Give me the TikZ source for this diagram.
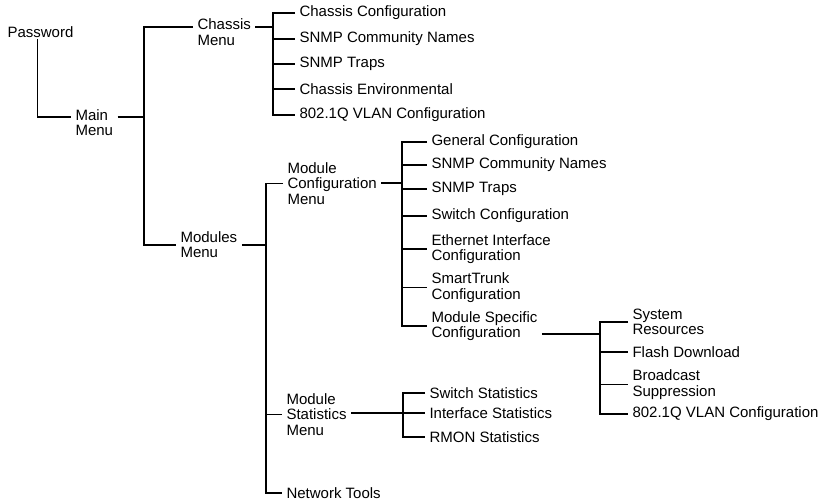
\documentclass[tikz,border=0pt]{standalone}
\usepackage{fontspec}
\setmainfont{Liberation Sans}
\usepackage{tikz}
\usetikzlibrary{calc}
\tikzset{
    menu/.style={anchor=west, align=left, inner xsep=4pt, inner ysep=1pt,
    font=\fontsize{15}{15.5}\selectfont}
}

\begin{document}
\begin{tikzpicture}[x=1pt,y=-1pt,line width=1.1pt]
\useasboundingbox (0,0) rectangle (831,502);
\coordinate (T1) at (144,117);
\coordinate (T2) at (273,27);
\coordinate (T3) at (266,245);
\coordinate (T4) at (402,183);
\coordinate (T5) at (600,334);
\coordinate (T6) at (403,413);

\node[menu] (pw) at (3,32) {Password};
\node[menu] (main) at (71,122.5) {Main\\Menu};
\node[menu] (chassis) at (193,32) {Chassis\\Menu};
\node[menu] (cc1) at (295,13) {Chassis Configuration};
\node[menu] (cc2) at (295,39) {SNMP Community Names};
\node[menu] (cc3) at (295,64) {SNMP Traps};
\node[menu] (cc4) at (295,89) {Chassis Environmental};
\node[menu] (cc5) at (295,115) {802.1Q VLAN Configuration};
\node[menu] (modules) at (176,244.5) {Modules\\Menu};
\node[menu] (modcfg) at (283,183.5) {Module\\Configuration\\Menu};
\node[menu] (g1) at (427,142) {General Configuration};
\node[menu] (g2) at (427,165) {SNMP Community Names};
\node[menu] (g3) at (427,189) {SNMP Traps};
\node[menu] (g4) at (427,216) {Switch Configuration};
\node[menu] (g5) at (427,249) {Ethernet Interface\\Configuration};
\node[menu] (g6) at (427,287.5) {SmartTrunk\\Configuration};
\node[menu] (g7) at (427,326) {Module Specific\\Configuration};
\node[menu] (s1) at (628,322) {System\\Resources};
\node[menu] (s2) at (628,352) {Flash Download};
\node[menu] (s3) at (628,384.5) {Broadcast\\Suppression};
\node[menu] (s4) at (628,414) {802.1Q VLAN Configuration};
\node[menu] (modstat) at (282,414.5) {Module\\Statistics\\Menu};
\node[menu] (st1) at (425,393) {Switch Statistics};
\node[menu] (st2) at (425,413) {Interface Statistics};
\node[menu] (st3) at (425,437) {RMON Statistics};
\node[menu] (nettools) at (282,493) {Network Tools};

\draw ([xshift=-3pt]pw.south) |- (main.west |- T1);
\draw (main.east |- T1) -- (T1);
\draw (chassis.west |- T2) -| (T1) |- (modules.west |- T3);
\draw (chassis.east |- T2) -- (T2);
\draw (cc1.west) -| (T2) |- (cc5.west);
\foreach \n in {cc2,cc3,cc4} \draw (T2 |- \n.west) -- (\n.west);
\draw (modules.east |- T3) -- (T3);
\draw (modcfg.west) -| (T3) |- (nettools.west);
\draw (T3 |- modstat.west) -- (modstat.west);
\draw (modcfg.east |- T4) -- (T4);
\draw (g1.west) -| (T4) |- (g7.west);
\foreach \n in {g2,g3,g4,g5,g6} \draw (T4 |- \n.west) -- (\n.west);
\draw (g7.east |- T5) -- (T5);
\draw (s1.west) -| (T5) |- (s4.west);
\foreach \n in {s2,s3} \draw (T5 |- \n.west) -- (\n.west);
\draw (modstat.east |- T6) -- (T6);
\draw (st1.west) -| (T6) |- (st3.west);
\draw (T6 |- st2.west) -- (st2.west);
\end{tikzpicture}
\end{document}
